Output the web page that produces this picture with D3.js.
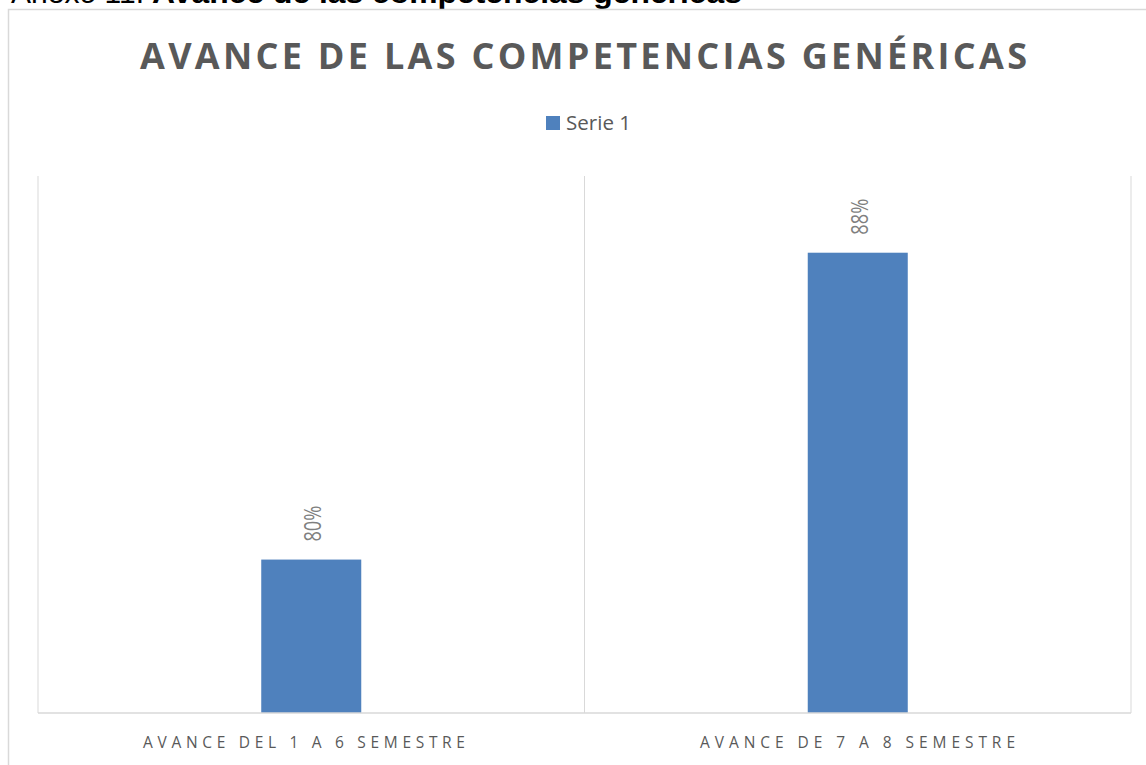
<!DOCTYPE html>
<html>
<head>
<meta charset="utf-8">
<script src="https://cdn.jsdelivr.net/npm/d3@7"></script>
<style>
  html, body { margin: 0; padding: 0; background: #fff; overflow: hidden; }
  svg { display: block; }
</style>
</head>
<body>
<div id="chart"></div>
<script>
// ---- data ----
const categories = ["AVANCE DEL 1 A 6 SEMESTRE", "AVANCE DE 7 A 8 SEMESTRE"];
const serie1 = [0.80, 0.88];
const seriesName = "Serie 1";
const yDomain = [0.76, 0.90];
const titleText = "AVANCE DE LAS COMPETENCIAS GENÉRICAS";

// ---- layout ----
const width = 1146, height = 765;
const plot = { left: 38, right: 1131, top: 176, bottom: 713 };
const barColor = "#4f81bd";
const gridColor = "#d9d9d9";
const textColor = "#595959";
const font = "'Open Sans', 'Liberation Sans', sans-serif";

const svg = d3.select("#chart").append("svg")
    .attr("width", width).attr("height", height);

// caption above the chart (cut off at the top of the page)
svg.append("text")
    .attr("x", 144).attr("y", 3)
    .attr("text-anchor", "end")
    .attr("font-family", "'Liberation Sans', Arial, sans-serif")
    .attr("font-size", 30)
    .attr("fill", "#000")
    .text("Anexo 11.");
svg.append("text")
    .attr("x", 152).attr("y", 3)
    .attr("font-family", "'Liberation Sans', Arial, sans-serif")
    .attr("font-size", 30)
    .attr("font-weight", "bold")
    .attr("fill", "#000")
    .attr("textLength", 590)
    .attr("lengthAdjust", "spacingAndGlyphs")
    .text("Avance de las competencias genéricas");

// chart frame
svg.append("rect")
    .attr("x", 8.5).attr("y", 9.5)
    .attr("width", width + 20).attr("height", height + 20)
    .attr("fill", "#fff")
    .attr("stroke", gridColor)
    .attr("stroke-width", 1.5);

// title
svg.append("text")
    .attr("x", 583.5).attr("y", 69)
    .attr("text-anchor", "middle")
    .attr("font-family", font)
    .attr("font-size", 36)
    .attr("font-weight", "bold")
    .attr("fill", textColor)
    .attr("textLength", 887)
    .attr("lengthAdjust", "spacing")
    .text(titleText);

// legend
const legend = svg.append("g").attr("transform", "translate(546,116)");
legend.append("rect")
    .attr("width", 14).attr("height", 14)
    .attr("fill", barColor);
legend.append("text")
    .attr("x", 20).attr("y", 14)
    .attr("font-family", font)
    .attr("font-size", 20)
    .attr("fill", textColor)
    .attr("textLength", 65)
    .attr("lengthAdjust", "spacingAndGlyphs")
    .text(seriesName);

// scales
const x = d3.scaleBand()
    .domain(categories)
    .range([plot.left, plot.right])
    .paddingInner(0.817)
    .paddingOuter(0.4085);

const y = d3.scaleLinear()
    .domain(yDomain)
    .range([plot.bottom, plot.top]);

// category separators (vertical gridlines)
const seps = d3.range(categories.length + 1).map(i => plot.left + i * (plot.right - plot.left) / categories.length);
svg.append("g").selectAll("line")
    .data(seps)
    .join("line")
    .attr("x1", d => d).attr("x2", d => d)
    .attr("y1", plot.top).attr("y2", plot.bottom)
    .attr("stroke", gridColor)
    .attr("stroke-width", 1);

// bars
svg.append("g").selectAll("rect")
    .data(serie1)
    .join("rect")
    .attr("x", (d, i) => x(categories[i]))
    .attr("y", d => y(d))
    .attr("width", x.bandwidth())
    .attr("height", d => y(yDomain[0]) - y(d))
    .attr("fill", barColor);

// data labels (rotated)
svg.append("g").selectAll("text")
    .data(serie1)
    .join("text")
    .attr("transform", (d, i) => `translate(${x(categories[i]) + x.bandwidth() / 2 + 1},${y(d) - 18}) rotate(-90)`)
    .attr("dominant-baseline", "central")
    .attr("font-family", font)
    .attr("font-size", 23)
    .attr("fill", "#7f7f7f")
    .attr("textLength", 36)
    .attr("lengthAdjust", "spacingAndGlyphs")
    .text(d => d3.format(".0%")(d));

// x axis
const xAxis = svg.append("g")
    .attr("transform", `translate(0,${plot.bottom})`)
    .call(d3.axisBottom(x).tickSize(0).tickPadding(0));
xAxis.select(".domain")
    .attr("d", `M${plot.left},0H${plot.right}`)
    .attr("stroke", gridColor)
    .attr("stroke-width", 1.5);
const labelWidths = [322, 315];
const labelCenters = [304, 857.5];
xAxis.selectAll(".tick text")
    .attr("x", (d, i) => labelCenters[i] - x(d) - x.bandwidth() / 2)
    .attr("y", 35)
    .attr("dy", 0)
    .attr("font-family", font)
    .attr("font-size", 15.5)
    .attr("fill", textColor)
    .attr("textLength", (d, i) => labelWidths[i])
    .attr("lengthAdjust", "spacing");
</script>
</body>
</html>
